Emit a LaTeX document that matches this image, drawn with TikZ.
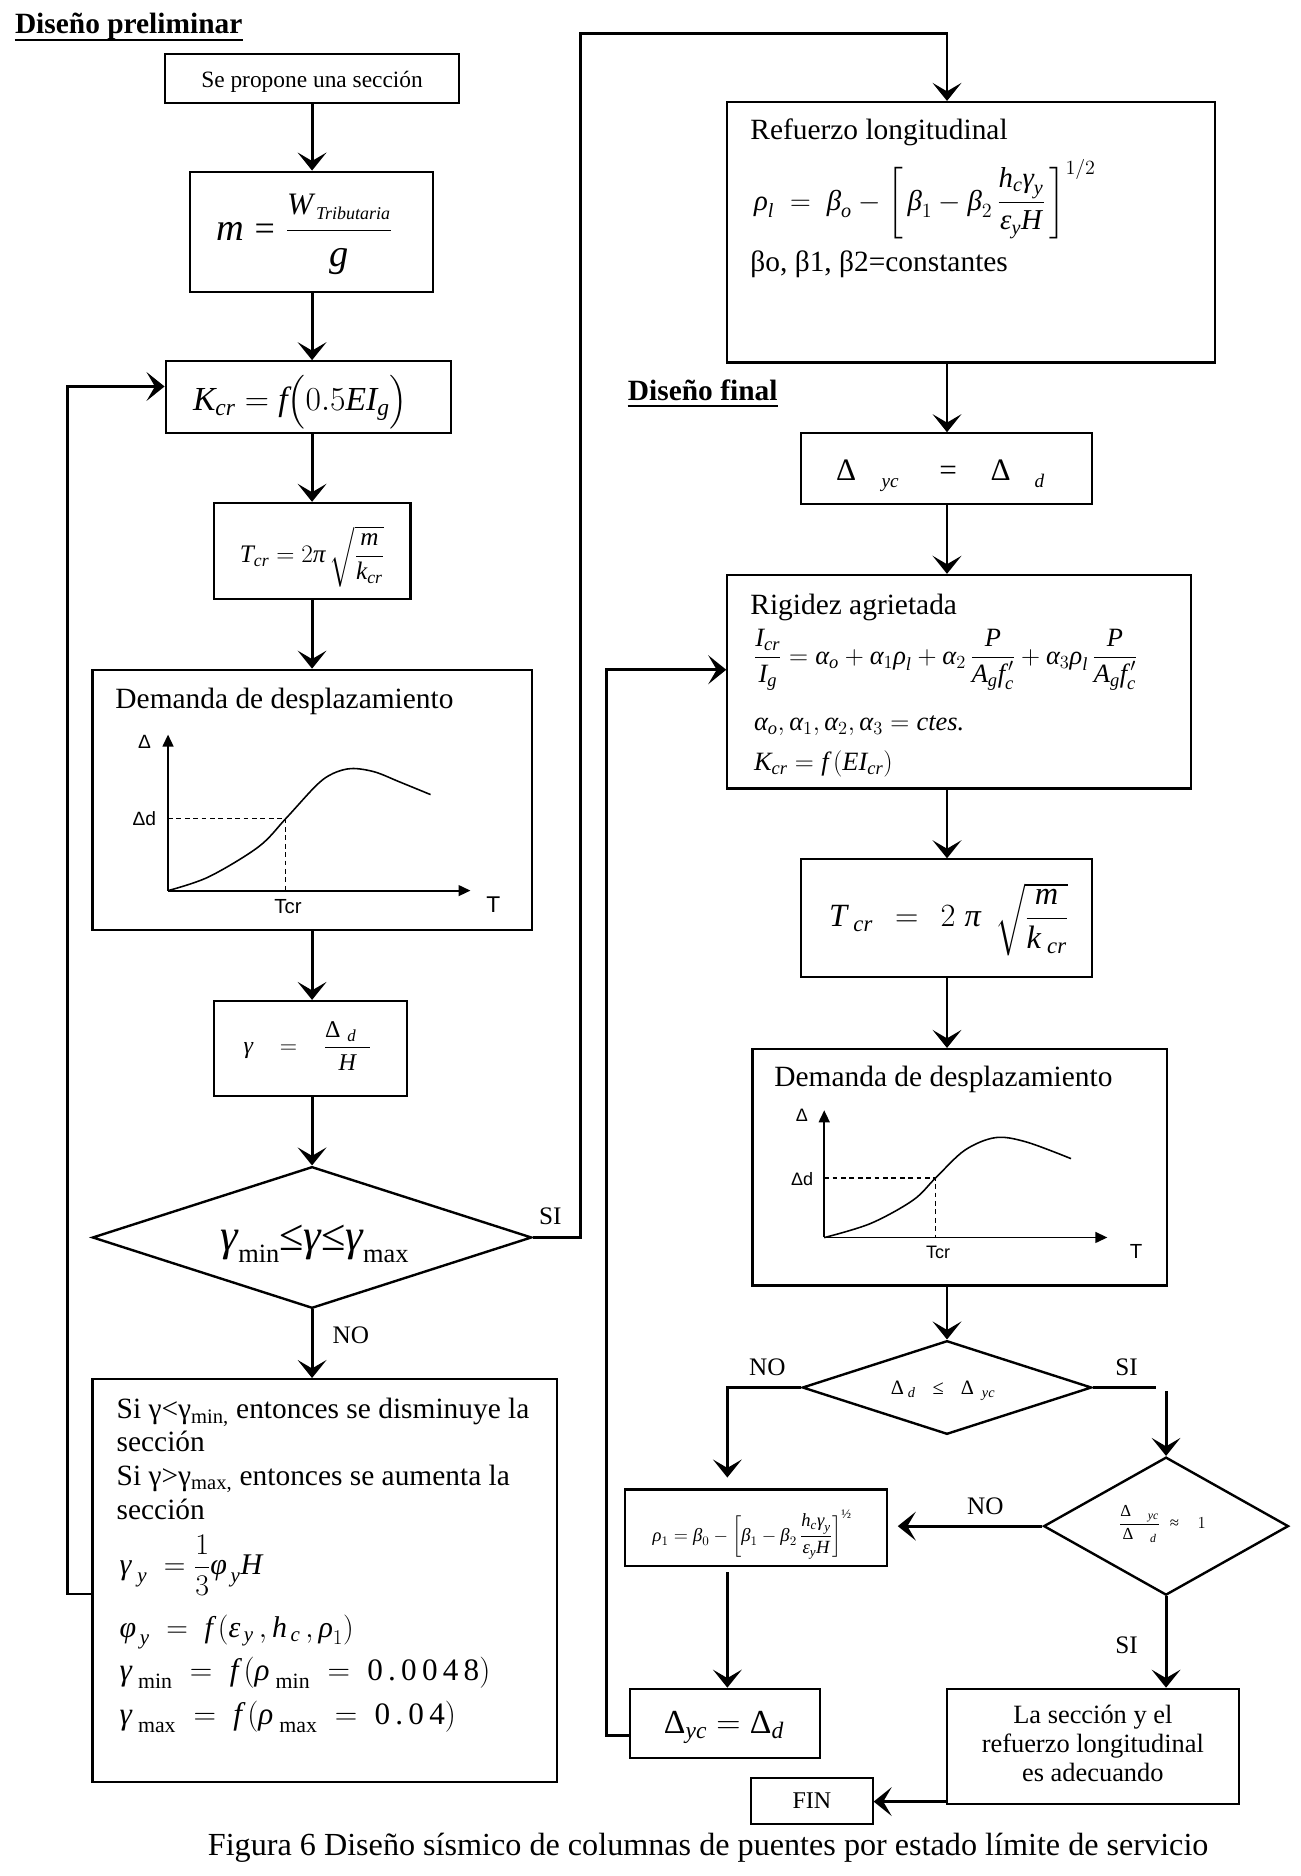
\documentclass[tikz,border=0pt]{standalone}
\usepackage{fix-cm}
\usepackage{amsmath}
\usepackage{fontspec}
\setmainfont{Liberation Serif}
\newfontfamily\arialf{Liberation Sans}
\usetikzlibrary{arrows.meta,shapes.geometric}
\newcommand\itx[1]{\text{\itshape #1}}
\newcommand\rmx[1]{\text{\upshape #1}}
\newcommand\fsz[2]{\text{\fontsize{#1}{#1}\selectfont #2}}
\begin{document}
\begin{tikzpicture}[x=1pt,y=-1pt,
  boxd/.style={draw, line width=1.8pt, inner sep=0pt, rectangle},
  dia/.style={draw, line width=2pt, diamond, inner sep=0pt},
  arr/.style={line width=2.4pt, -{Stealth[length=15pt,width=24pt,inset=7pt]}},
  ln/.style={line width=2.4pt},
  tx/.style={inner sep=0pt, anchor=base west},
  sz/.style={font=\fontsize{#1}{#1}\selectfont},
  ax/.style={line width=1.6pt, -{Triangle[length=10pt,width=9pt]}},
  dsh/.style={line width=1pt, dash pattern=on 4pt off 3pt},
  crv/.style={line width=1.3pt},
  gl/.style={inner sep=0pt, font=\fontsize{#1}{#1}\selectfont\arialf},
  ttl/.style={inner sep=0pt, anchor=base west, font=\fontsize{24.5}{24.5}\selectfont\bfseries},
]
\fill[white] (0,0) rectangle (1083.3,1563);
\useasboundingbox (0,0) rectangle (1083.3,1563);
\coordinate (colL) at (260,0);
\coordinate (colR) at (789,0);

% ---------- titles ----------
\node[ttl] (t1) at (12.3,27.8) {Diseño preliminar};
\draw[line width=1.8pt] ([yshift=-5.5pt]t1.base west) -- ([yshift=-5.5pt]t1.base east);
\node[ttl] (t2) at (523,333.3) {Diseño final};
\draw[line width=1.8pt] ([yshift=-5pt]t2.base west) -- ([yshift=-5pt]t2.base east);

% ---------- left column ----------
\node[boxd, minimum width=245, minimum height=41] (b1) at (260,65.5) {};
\node[inner sep=0pt, anchor=base, sz=19.5] (b1t) at (260,72.8) {Se propone una sección};

\node[boxd, minimum width=203, minimum height=100] (b2) at (259.5,193) {};
\node[tx, sz=32] (b2t) at (180,200) {$\itx{m} \mathrel{\fsz{30}{=}} \dfrac{\fsz{26}{\itshape W}_{\fsz{15}{\itshape\,Tributaria}}}{\fsz{32}{\itshape g}}$};

\node[boxd, minimum width=238, minimum height=60] (b3) at (257,331) {};
\node[tx, sz=28] (b3t) at (160.6,341.7) {$\itx{K}_{\itx{cr}} = \itx{f}\big(0.5\itx{EI}_{\itx{g}}\big)$};

\node[boxd, minimum width=164, minimum height=80] (b4) at (260,459) {};
\node[tx, sz=21] (b4t) at (199.7,468.5) {$\itx{T}_{\itx{cr}} = 2\itx{π}\,\sqrt{\dfrac{\itx{m}}{\itx{k}_{\itx{cr}}}}$};

\node[boxd, minimum width=366, minimum height=217] (b5) at (260,666.5) {};
\node[tx, sz=24.5] (b5t) at (96,590.3) {Demanda de desplazamiento};
\draw[ax] (140,742) -- (140,612);
\draw[ax] (140,742) -- (392,742);
\draw[dsh] (140,682) -- (238,682) -- (238,742);
\draw[crv] plot[smooth, tension=0.55] coordinates {(140,742) (173.8,730.6) (215.3,705.6) (238.1,682) (263.7,654.2) (277.5,644.4) (293,640.3) (312.1,643.1) (332.8,651.4) (358.7,662)};
\node[gl=16] (g1a) at (120.5,618) {Δ};
\node[gl=16] (g1b) at (120.3,682) {Δd};
\node[gl=17] (g1c) at (240,755) {Tcr};
\node[gl=19] (g1d) at (411,753.7) {T};

\node[boxd, minimum width=161, minimum height=79] (b6) at (258.5,873.5) {};
\node[tx, sz=20] (b6t) at (202.8,878) {$\itx{γ}\;\;\;=\;\;\;\dfrac{\rmx{Δ}\;{}_{\itx{d}}\;\;}{\itx{H}}$};

\node[dia, minimum width=366, minimum height=118] (d1) at (260,1031) {};
\node[tx, sz=37] (d1t) at (183.8,1042) {{\itshape γ}\raisebox{-10pt}{\fontsize{22}{22}\selectfont min}≤{\itshape γ}≤{\itshape γ}\raisebox{-10pt}{\fontsize{22}{22}\selectfont max}};
\node[tx, sz=21] (lsi1) at (449,1020) {SI};
\node[tx, sz=21] (lno1) at (277,1119.4) {NO};

\node[boxd, minimum width=387, minimum height=336] (b7) at (270.5,1317) {};
\node[tx, sz=24.5] (s1) at (97,1182) {Si γ<γ\textsubscript{min,} entonces se disminuye la};
\node[tx, sz=24.5] (s2) at (97,1209.7) {sección};
\node[tx, sz=24.5] (s3) at (97,1237.5) {Si γ>γ\textsubscript{max,} entonces se aumenta la};
\node[tx, sz=24.5] (s4) at (97,1265.8) {sección};
\node[tx, sz=25] (s5) at (99.5,1311.9) {$\itx{γ}_{\;\itx{y}} \;= \dfrac{1}{3}\itx{φ}_{\,\itx{y}}\itx{H}$};
\node[tx, sz=25] (s6) at (99.5,1364) {$\itx{φ}_{\,\itx{y}} \;=\; \itx{f}\,(\itx{ε}_{\,\itx{y}}\,,\itx{h}_{\,\itx{c}}\,,\itx{ρ}_{1})$};
\node[tx, sz=26] (s7) at (99.5,1400) {$\itx{γ}_{\;\rmx{min}} \;=\; \itx{f}\,(\itx{ρ}_{\;\rmx{min}} \;=\; \rmx{0\,.\,0\,0\,4\,8})$};
\node[tx, sz=26] (s8) at (99.5,1436.7) {$\itx{γ}_{\;\rmx{max}} \;=\; \itx{f}\,(\itx{ρ}_{\;\rmx{max}} \;=\; \rmx{0\,.\,0\,4})$};

% ---------- right column ----------
\node[boxd, minimum width=406, minimum height=217] (r1) at (809,193.5) {};
\node[tx, sz=24.5] (r1a) at (625,116.5) {Refuerzo longitudinal};
\node[tx, sz=24] (r1b) at (628,175) {$\itx{ρ}_{\itx{l}} \;=\; \itx{β}_{\itx{o}} - \left[\,\itx{β}_{1} - \itx{β}_{2}\,\dfrac{\itx{h}_{\itx{c}}\itx{γ}_{\itx{y}}}{\itx{ε}_{\itx{y}}\itx{H}}\,\right]^{1/2}$};
\node[tx, sz=24.5] (r1c) at (625,226.4) {βo, β1, β2=constantes};

\node[boxd, minimum width=243, minimum height=59] (r2) at (788.5,390.5) {};
\node[tx, sz=26] (r2t) at (696.5,400) {Δ\hspace{21pt}\raisebox{-6pt}{\fontsize{16}{16}\selectfont\itshape yc}\hspace{34pt}=\hspace{28pt}Δ\hspace{20pt}\raisebox{-6pt}{\fontsize{16}{16}\selectfont\itshape d}};

\node[boxd, minimum width=386, minimum height=178] (r3) at (799,568) {};
\node[tx, sz=24.5] (r3a) at (625,511.7) {Rigidez agrietada};
\node[tx, sz=22] (r3b) at (628,553.5) {$\dfrac{\itx{I}_{\itx{cr}}}{\itx{I}_{\itx{g}}} = \itx{α}_{\itx{o}} + \itx{α}_{1}\itx{ρ}_{\itx{l}} + \itx{α}_{2}\,\dfrac{\itx{P}}{\itx{A}_{\itx{g}}\itx{f}^{\,\prime}_{\itx{c}}} + \itx{α}_{3}\itx{ρ}_{\itx{l}}\,\dfrac{\itx{P}}{\itx{A}_{\itx{g}}\itx{f}^{\,\prime}_{\itx{c}}}$};
\node[tx, sz=22] (r3c) at (628,608.3) {$\itx{α}_{\itx{o}}, \itx{α}_{1}, \itx{α}_{2}, \itx{α}_{3} = \itx{ctes.}$};
\node[tx, sz=22] (r3d) at (628,641.7) {$\itx{K}_{\itx{cr}} = \itx{f}\,(\itx{EI}_{\itx{cr}})$};

\node[boxd, minimum width=243, minimum height=98] (r4) at (788.5,765) {};
\node[tx, sz=27] (r4t) at (690.6,772) {$\itx{T}_{\;\itx{cr}}\hspace{11pt}=\hspace{11pt}2\;\itx{π}\hspace{12pt}\sqrt{\dfrac{\itx{m}}{\itx{k}_{\;\itx{cr}}}}$};

\node[boxd, minimum width=345, minimum height=197] (r5) at (799.5,972.5) {};
\node[tx, sz=24.5] (r5t) at (645,905.6) {Demanda de desplazamiento};
\draw[ax] (686.7,1031) -- (686.7,925);
\draw[ax] (686.7,1031) -- (922.6,1031);
\draw[dsh] (686.7,981.4) -- (779.5,981.4) -- (779.5,1031);
\draw[crv] plot[smooth, tension=0.55] coordinates {(686.7,1031.1) (725.2,1019.4) (760.6,1000) (779.5,981.4) (803.8,958.3) (829.4,947.8) (855,951.4) (892.3,965.3)};
\node[gl=15] (g2a) at (668,929) {Δ};
\node[gl=15] (g2b) at (668.2,982.6) {Δd};
\node[gl=15] (g2c) at (781.5,1043.8) {Tcr};
\node[gl=17] (g2d) at (946.5,1042.5) {T};

\node[dia, minimum width=241, minimum height=78] (d2) at (789,1156) {};
\node[tx, sz=17] (d2t) at (742,1162) {$\rmx{Δ}_{\;\itx{d}}\;\;\;\rmx{≤}\;\;\;\rmx{Δ}_{\;\;\itx{yc}}$};
\node[tx, sz=21] (lno2) at (624,1146) {NO};
\node[tx, sz=21] (lsi2) at (929,1146) {SI};

\node[dia, minimum width=204, minimum height=115] (d3) at (971.5,1271.5) {};
\node[tx, sz=14] (d3t) at (932,1273.3) {$\dfrac{\rmx{Δ}\hspace{14pt}{}_{\itx{yc}}}{\rmx{Δ}\hspace{14pt}{}_{\itx{d}}}\;\;\rmx{≈}\;\;\;\;1$};
\node[tx, sz=21] (lno3) at (805.6,1262) {NO};
\node[tx, sz=21] (lsi3) at (929,1378) {SI};

\node[boxd, minimum width=218, minimum height=64] (r6) at (630,1273) {};
\node[tx, sz=15.5] (r6t) at (543.5,1284) {$\itx{ρ}_{1} = \itx{β}_{0} - \left[\itx{β}_{1} - \itx{β}_{2}\,\dfrac{\itx{h}_{\itx{c}}\itx{γ}_{\itx{y}}}{\itx{ε}_{\itx{y}}\itx{H}}\right]^{\rmx{½}}$};

\node[boxd, minimum width=158, minimum height=58] (r7) at (604,1436) {};
\node[tx, sz=28] (r7t) at (553,1444.6) {$\rmx{Δ}_{\itx{yc}} = \rmx{Δ}_{\itx{d}}$};

\node[boxd, minimum width=243, minimum height=96] (r8) at (910.5,1455) {};
\node[inner sep=0pt, anchor=base, sz=22] (r8a) at (910.5,1436) {La sección y el};
\node[inner sep=0pt, anchor=base, sz=22] (r8b) at (910.5,1460) {refuerzo longitudinal};
\node[inner sep=0pt, anchor=base, sz=22] (r8c) at (910.5,1484) {es adecuando};

\node[boxd, minimum width=101, minimum height=39, sz=20] (fin) at (676.5,1500.5) {FIN};

\node[inner sep=0pt, anchor=base, sz=26.8] (cap) at (590,1546) {Figura 6 Diseño sísmico de columnas de puentes por estado límite de servicio};

% ---------- connectors ----------
\draw[arr] (colL |- b1.south) -- (colL |- b2.north);
\draw[arr] (colL |- b2.south) -- (colL |- b3.north);
\draw[arr] (colL |- b3.south) -- (colL |- b4.north);
\draw[arr] (colL |- b4.south) -- (colL |- b5.north);
\draw[arr] (colL |- b5.south) -- (colL |- b6.north);
\draw[arr] (colL |- b6.south) -- (d1.north);
\draw[arr] (d1.south) -- (colL |- b7.north);
\coordinate (k3) at (56.5,1328);
\coordinate (k4) at (56.5,322);
\draw[arr] (b7.west |- k3) -- (k3) -- (k4) -- (b3.west |- k4);
\coordinate (k1) at (484,28);
\coordinate (k2) at (789,28);
\draw[arr] (d1.east) -| (k1) -- (k2) -- (colR |- r1.north);

\draw[arr] (colR |- r1.south) -- (colR |- r2.north);
\draw[arr] (colR |- r2.south) -- (colR |- r3.north);
\draw[arr] (colR |- r3.south) -- (colR |- r4.north);
\draw[arr] (colR |- r4.south) -- (colR |- r5.north);
\draw[arr] (colR |- r5.south) -- (d2.north);
\coordinate (k7) at (606,1156);
\coordinate (k8) at (606,1231);
\draw[arr] (d2.west) -- (k7) -- (k8);
\coordinate (k9) at (963,1156);
\draw[ln] (d2.east) -- (k9);
\coordinate (k10) at (971.5,1159);
\draw[arr] (k10) -- (d3.north);
\coordinate (k11) at (748,1271.5);
\draw[arr] (d3.west) -- (k11);
\coordinate (k12) at (606,1310);
\draw[arr] (k12) -- (k12 |- r7.north);
\draw[arr] (d3.south) -- (d3.south |- r8.north);
\coordinate (k13) at (789,1501);
\draw[arr] (k13) -- (k13 -| fin.east);
\coordinate (k5) at (505,1446);
\coordinate (k6) at (505,558);
\draw[arr] (r7.west |- k5) -- (k5) -- (k6) -- (r3.west |- k6);
\end{tikzpicture}
\end{document}
